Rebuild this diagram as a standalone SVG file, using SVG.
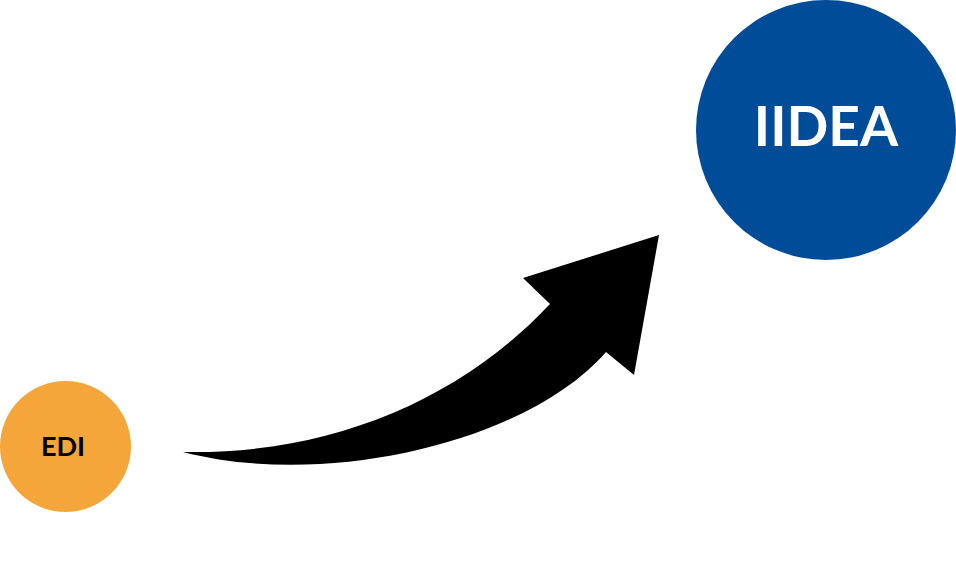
<svg xmlns="http://www.w3.org/2000/svg" width="956" height="567" viewBox="0 0 956 567">
<style>
.lbl{font-family:Lato,"Liberation Sans",Arial,sans-serif;text-anchor:middle;font-weight:bold}
</style>
<rect width="956" height="567" fill="#ffffff"/>
<g id="connectors">
<path d="M183,452 C330,455 460,400 550,304 L523,278 L659,235 L634,375 L606,352 C530,440 330,490 183,452 Z" fill="#000000"/>
</g>
<g id="node-edi">
<circle cx="65.5" cy="446.5" r="65.5" fill="#F4A63A"/>
<text class="lbl" x="63" y="456" font-size="27" fill="#000000">EDI</text>
</g>
<g id="node-iidea">
<circle cx="826" cy="130" r="130" fill="#004C99"/>
<text class="lbl" x="826" y="146" font-size="55" fill="#ffffff">IIDEA</text>
</g>
</svg>
